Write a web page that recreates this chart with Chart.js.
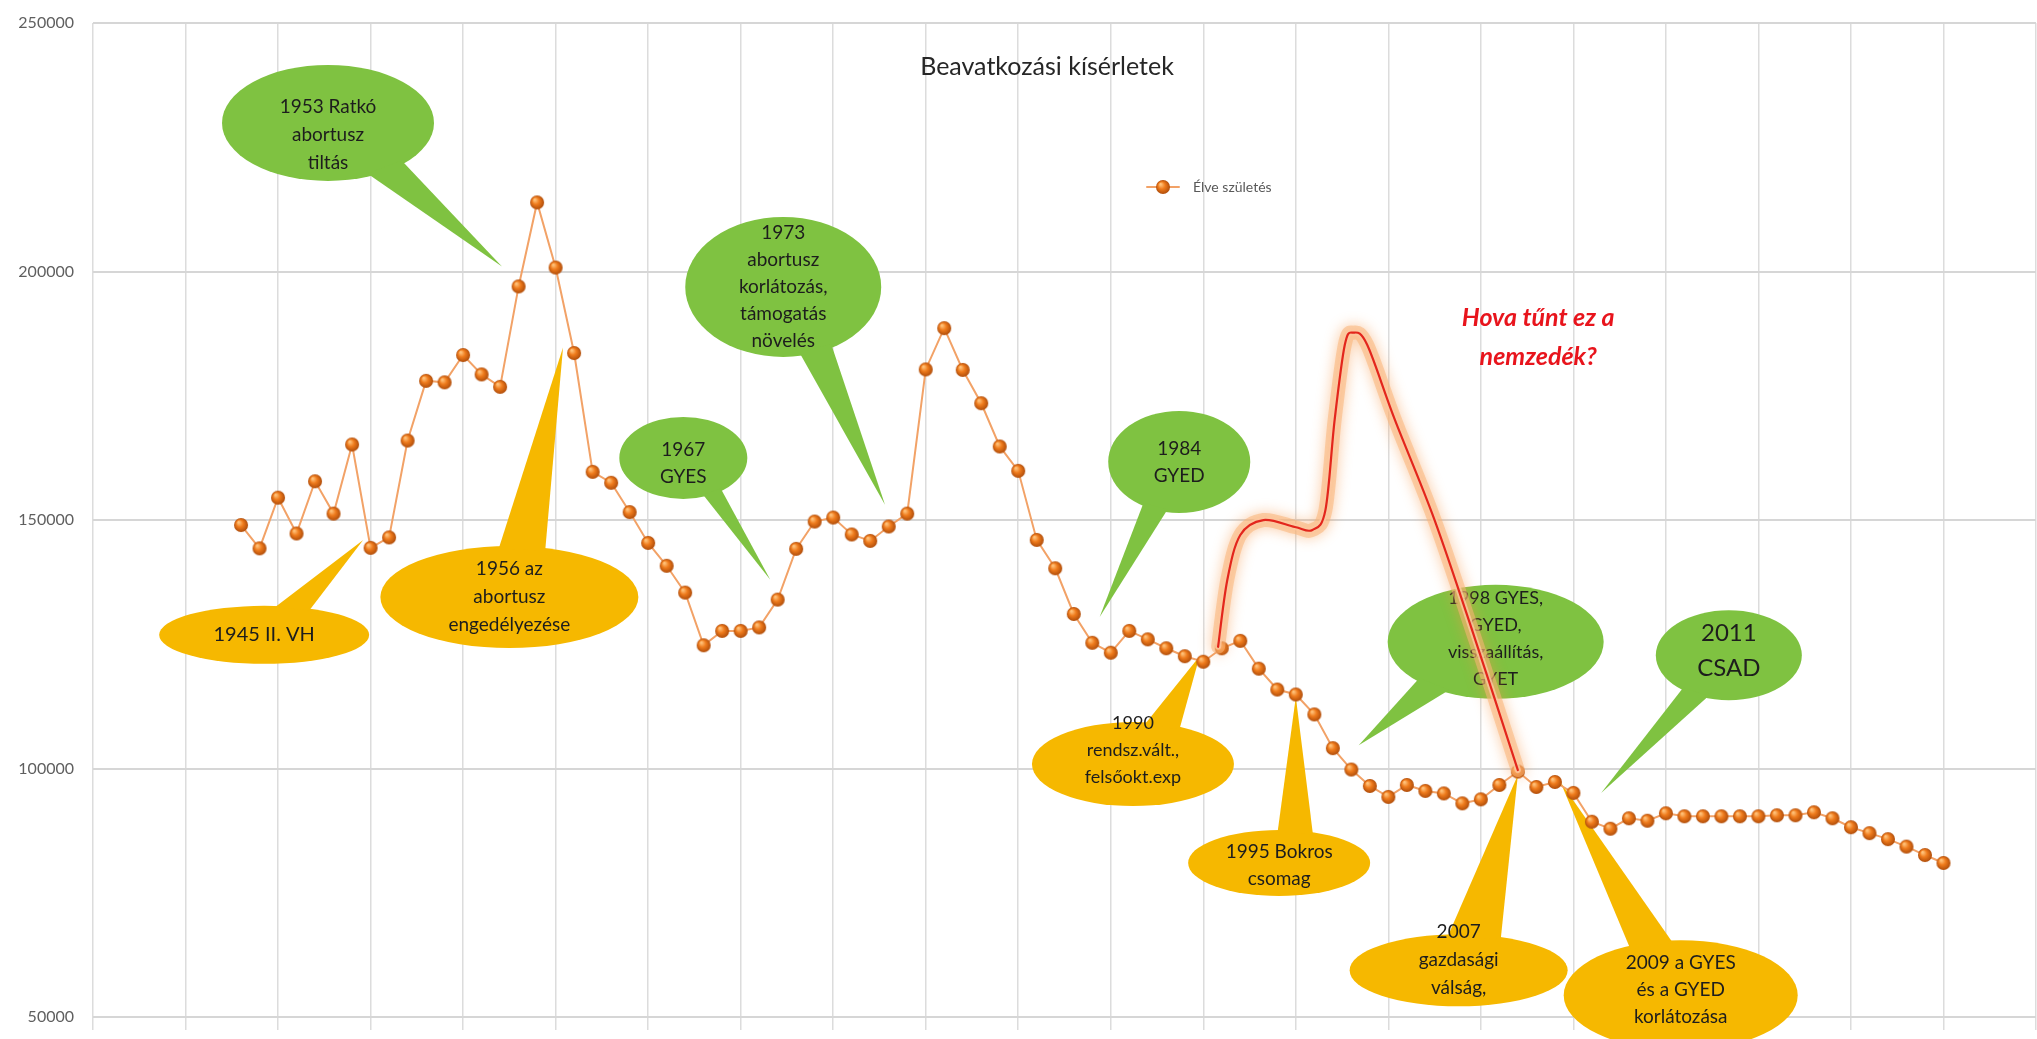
<!DOCTYPE html>
<html>
<head>
<meta charset="utf-8">
<title>Beavatkozási kísérletek</title>
<script src="https://cdn.jsdelivr.net/npm/chart.js@4.4.1/dist/chart.umd.min.js"></script>
<style>
  html, body { margin: 0; padding: 0; background: #fff; overflow: hidden; }
  canvas { display: block; }
</style>
</head>
<body>
<canvas id="myChart" width="2045" height="1039"></canvas>
<script>
// Élve születések száma, 1938-tól (2012 után előrejelzés)
var firstYear = 1938;
var births = [
    149000, 144300, 154500, 147300, 157800, 151300, 165200, 144400, 146500, 166000, // 1938-1947
    178000, 177700, 183200, 179300, 176800, 197000, 213900, 200800, 183600, 159700, // 1948-1957
    157500, 151600, 145400, 140800, 135400, 124800, 127700, 127700, 128400, 134000, // 1958-1967
    144200, 149700, 150500, 147100, 145800, 148700, 151300, 180300, 188600, 180200, // 1968-1977
    173500, 164800, 159900, 146000, 140300, 131100, 125300, 123300, 127700, 126000, // 1978-1987
    124200, 122600, 121500, 124200, 125700, 120100, 115900, 114900, 110900, 104100, // 1988-1997
    99800, 96500, 94300, 96700, 95500, 95000, 93000, 93800, 96700, 99400,           // 1998-2007
    96300, 97300, 95100, 89300, 87900, 90000, 89500, 91000, 90400, 90400,           // 2008-2017
    90400, 90400, 90400, 90600, 90600, 91200, 90000, 88200, 87000, 85800,           // 2018-2027
    84300, 82600, 81000                                                             // 2028-2030
];
var yTicks = [50000, 100000, 150000, 200000, 250000];
var seriesLabel = 'Élve születés';
var chartTitle = 'Beavatkozási kísérletek';

var years = births.map(function(v, i) { return firstYear + i; });

var green = '#7fc241';
var yellow = '#f6b800';

// szövegbuborékok: at = ellipszis közepe (év, érték), tip = a csúcs (év, érték)
var callouts = [
    { lines: ['1953 Ratkó', 'abortusz', 'tiltás'], color: green, at: [1942.7, 229900], rx: 106, ry: 58, tip: [1952.1, 201000], base: [43, 67], dy: 12, size: 19, lh: 28 },
    { lines: ['1945 II. VH'], color: yellow, at: [1939.25, 126900], rx: 105, ry: 29, tip: [1944.6, 146000], base: [-84, -63], dy: 0, size: 20, lh: 28 },
    { lines: ['1956 az', 'abortusz', 'engedélyezése'], color: yellow, at: [1952.5, 134500], rx: 129, ry: 51, tip: [1955.4, 184700], base: [-95, -73], dy: 0, size: 19, lh: 28 },
    { lines: ['1967', 'GYES'], color: green, at: [1961.9, 162500], rx: 64, ry: 41, tip: [1966.6, 138000], base: [52, 71], dy: 5, size: 19, lh: 27 },
    { lines: ['1973', 'abortusz', 'korlátozás,', 'támogatás', 'növelés'], color: green, at: [1967.3, 196900], rx: 98, ry: 70, tip: [1972.8, 153100], base: [59, 80], dy: 0, size: 19, lh: 27 },
    { lines: ['1984', 'GYED'], color: green, at: [1988.7, 161700], rx: 71, ry: 51, tip: [1984.4, 130500], base: [100, 122], dy: 0, size: 19, lh: 27 },
    { lines: ['1990', 'rendsz.vált.,', 'felsőokt.exp'], color: yellow, at: [1986.2, 100900], rx: 101, ry: 42, tip: [1989.8, 122600], base: [-83, -61], dy: -14, size: 18, lh: 27 },
    { lines: ['1995 Bokros', 'csomag'], color: yellow, at: [1994.1, 81000], rx: 91, ry: 33, tip: [1995.0, 114400], base: [-91, -67], dy: 2, size: 19, lh: 27 },
    { lines: ['1998 GYES,', 'GYED,', 'visszaállítás,', 'GYET'], color: green, at: [2005.8, 125500], rx: 108, ry: 57, tip: [1998.4, 104700], base: [117, 138], dy: -3, size: 18, lh: 27 },
    { lines: ['2011', 'CSAD'], color: green, at: [2018.4, 122800], rx: 73, ry: 45, tip: [2011.5, 95100], base: [107, 131], dy: -4, size: 24, lh: 35 },
    { lines: ['2007', 'gazdasági', 'válság,'], color: yellow, at: [2003.8, 59400], rx: 109, ry: 36, tip: [2007.0, 98700], base: [-96, -66], dy: -10, size: 19, lh: 28 },
    { lines: ['2009 a GYES', 'és a GYED', 'korlátozása'], color: yellow, at: [2015.8, 54400], rx: 117, ry: 55, tip: [2009.3, 97300], base: [-117, -94], dy: -5, size: 19, lh: 27 }
];

// kézzel rajzolt piros görbe (év, érték)
var lostGeneration = [
    [1990.8, 124500], [1991.3, 138000], [1992.0, 147000], [1993.25, 150000], [1994.95, 148600],
    [1995.9, 148000], [1996.6, 152000], [1997.1, 170200], [1997.65, 185300], [1998.1, 187700],
    [1998.85, 185300], [2000.35, 170200], [2002.5, 150000], [2004.7, 125900], [2007.0, 99700]
];
var lostText = { lines: ['Hova tűnt ez a', 'nemzedék?'], at: [2008.1, 190700] };

function makeBall(r) {
    var c = document.createElement('canvas');
    c.width = c.height = 2 * r + 2;
    var g = c.getContext('2d');
    var m = r + 1;
    var grad = g.createRadialGradient(m - r * 0.35, m - r * 0.4, r * 0.1, m, m, r);
    grad.addColorStop(0, '#ffc27a');
    grad.addColorStop(0.45, '#ef7b1c');
    grad.addColorStop(1, '#b04d0a');
    g.fillStyle = grad;
    g.beginPath();
    g.arc(m, m, r, 0, Math.PI * 2);
    g.fill();
    return c;
}
var ball = makeBall(7);

function smoothPath(ctx, pts) {
    ctx.moveTo(pts[0].x, pts[0].y);
    for (var i = 0; i < pts.length - 1; i++) {
        var p0 = pts[i - 1] || pts[i], p1 = pts[i], p2 = pts[i + 1], p3 = pts[i + 2] || p2;
        ctx.bezierCurveTo(p1.x + (p2.x - p0.x) / 6, p1.y + (p2.y - p0.y) / 6,
                          p2.x - (p3.x - p1.x) / 6, p2.y - (p3.y - p1.y) / 6, p2.x, p2.y);
    }
}

var calloutPlugin = {
    id: 'callouts',
    beforeDatasetsDraw: function(chart) {
        var ctx = chart.ctx, xs = chart.scales.x, ys = chart.scales.y;
        ctx.save();
        callouts.forEach(function(c) {
            var cx = xs.getPixelForValue(c.at[0]), cy = ys.getPixelForValue(c.at[1]);
            var tx = xs.getPixelForValue(c.tip[0]), ty = ys.getPixelForValue(c.tip[1]);
            var a1 = c.base[0] * Math.PI / 180, a2 = c.base[1] * Math.PI / 180;
            ctx.fillStyle = c.color;
            ctx.beginPath();
            ctx.ellipse(cx, cy, c.rx, c.ry, 0, 0, Math.PI * 2);
            ctx.fill();
            ctx.beginPath();
            ctx.moveTo(cx + c.rx * 0.95 * Math.cos(a1), cy + c.ry * 0.95 * Math.sin(a1));
            ctx.lineTo(tx, ty);
            ctx.lineTo(cx + c.rx * 0.95 * Math.cos(a2), cy + c.ry * 0.95 * Math.sin(a2));
            ctx.closePath();
            ctx.fill();

            ctx.fillStyle = '#1d1d1d';
            ctx.font = c.size + 'px Lato, "Open Sans", sans-serif';
            ctx.textAlign = 'center';
            ctx.textBaseline = 'middle';
            var y0 = cy + c.dy - (c.lines.length - 1) * c.lh / 2;
            c.lines.forEach(function(line, i) {
                ctx.fillText(line, cx, y0 + i * c.lh);
            });
        });
        ctx.restore();
    },
    afterDatasetsDraw: function(chart) {
        var ctx = chart.ctx, xs = chart.scales.x, ys = chart.scales.y;
        var pts = lostGeneration.map(function(p) {
            return { x: xs.getPixelForValue(p[0]), y: ys.getPixelForValue(p[1]) };
        });
        ctx.save();
        ctx.lineCap = 'round';
        ctx.lineJoin = 'round';
        // izzás
        ctx.shadowColor = 'rgba(247, 150, 70, 0.9)';
        ctx.shadowBlur = 14;
        ctx.strokeStyle = 'rgba(250, 180, 120, 0.55)';
        ctx.lineWidth = 14;
        ctx.beginPath(); smoothPath(ctx, pts); ctx.stroke();
        ctx.shadowBlur = 0;
        ctx.strokeStyle = 'rgba(252, 200, 160, 0.8)';
        ctx.lineWidth = 6;
        ctx.beginPath(); smoothPath(ctx, pts); ctx.stroke();
        ctx.strokeStyle = '#e3261c';
        ctx.lineWidth = 2.2;
        ctx.beginPath(); smoothPath(ctx, pts); ctx.stroke();

        ctx.fillStyle = '#e8141c';
        ctx.font = 'italic bold 25px Lato, "Open Sans", sans-serif';
        ctx.textAlign = 'center';
        ctx.textBaseline = 'middle';
        var lx = xs.getPixelForValue(lostText.at[0]), ly = ys.getPixelForValue(lostText.at[1]);
        lostText.lines.forEach(function(line, i) {
            ctx.fillText(line, lx, ly + i * 39);
        });

        // cím
        ctx.fillStyle = '#262626';
        ctx.font = '25px Lato, "Open Sans", sans-serif';
        ctx.fillText(chartTitle, 1047, 67);

        // jelmagyarázat
        var ds = chart.data.datasets[0];
        ctx.strokeStyle = ds.borderColor;
        ctx.lineWidth = 2;
        ctx.beginPath(); ctx.moveTo(1147, 187); ctx.lineTo(1179, 187); ctx.stroke();
        ctx.drawImage(ball, 1163 - ball.width / 2, 187 - ball.height / 2);
        ctx.fillStyle = '#595959';
        ctx.font = '14px Lato, "Open Sans", sans-serif';
        ctx.textAlign = 'left';
        ctx.fillText(ds.label, 1193, 187);
        ctx.restore();
    }
};

var ctx = document.getElementById('myChart').getContext('2d');
var myChart = new Chart(ctx, {
    type: 'line',
    data: {
        datasets: [{
            label: seriesLabel,
            data: years.map(function(y, i) { return { x: y, y: births[i] }; }),
            borderColor: '#f2a267',
            borderWidth: 2,
            pointStyle: ball,
            pointRadius: 7,
            tension: 0
        }]
    },
    options: {
        responsive: false,
        animation: false,
        layout: { padding: { top: 23, right: 4, left: 0, bottom: 0 } },
        plugins: {
            legend: { display: false },
            tooltip: { enabled: false },
            title: { display: false }
        },
        scales: {
            x: {
                type: 'linear',
                min: 1930,
                max: 2035,
                afterFit: function(scale) {
                    scale.height = 0;
                    scale.paddingLeft = 0; scale.paddingRight = 0;
                },
                ticks: { display: false, stepSize: 5 },
                grid: { color: '#dcdcdc', lineWidth: 1.5, drawTicks: false },
                border: { display: false }
            },
            y: {
                min: 47400,
                max: 250000,
                afterFit: function(scale) {
                    scale.width = 93;
                    scale.paddingTop = 0; scale.paddingBottom = 0;
                },
                afterBuildTicks: function(scale) {
                    scale.ticks = yTicks.map(function(v) { return { value: v }; });
                },
                ticks: {
                    padding: 19,
                    color: '#5f5f5f',
                    font: { family: 'Lato', size: 16 },
                    callback: function(v) { return String(v); }
                },
                grid: { color: '#d6d6d6', lineWidth: 2, drawTicks: false },
                border: { display: false }
            }
        }
    },
    plugins: [calloutPlugin]
});
</script>
</body>
</html>
